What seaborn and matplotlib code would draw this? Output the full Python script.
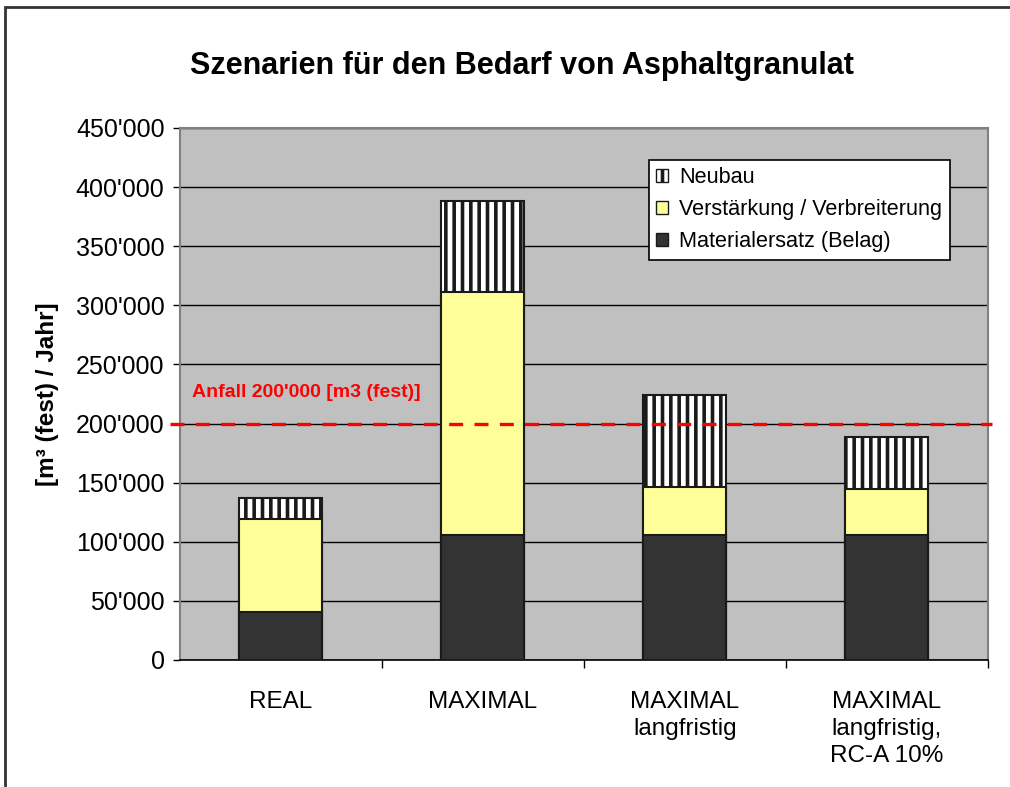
import matplotlib
matplotlib.use('Agg')
import matplotlib.pyplot as plt
import seaborn as sns
import numpy as np
import pandas as pd
from matplotlib.patches import Patch, Rectangle
from matplotlib.ticker import FuncFormatter, FixedLocator

# Data (m3 fest / Jahr)
scenarios = ['REAL', 'MAXIMAL', 'MAXIMAL\nlangfristig', 'MAXIMAL\nlangfristig,\nRC-A 10%']
materialersatz = [41000, 106000, 106000, 106000]
verstaerkung = [78000, 205000, 40000, 39000]
neubau = [18000, 77000, 78000, 44000]
anfall = 200000

sns.set_theme(style='white')
plt.rcParams['font.family'] = ['Liberation Sans', 'DejaVu Sans']
plt.rcParams['hatch.linewidth'] = 2.6
for k in ['text.color', 'axes.labelcolor', 'xtick.color', 'ytick.color']:
    plt.rcParams[k] = 'black'

df = pd.DataFrame({'Szenario': scenarios,
                   'Materialersatz': materialersatz,
                   'Verstaerkung': verstaerkung,
                   'Neubau': neubau})
df['lvl1'] = df['Materialersatz']
df['lvl2'] = df['lvl1'] + df['Verstaerkung']
df['lvl3'] = df['lvl2'] + df['Neubau']

fig = plt.figure(figsize=(10.1, 7.87), dpi=100)
ax = fig.add_axes([0.178, 0.1614, 0.8, 0.676])
ax.set_facecolor('#C0C0C0')

edge = '#1a1a1a'
bw = 0.41
# stacked: draw totals first, then lower layers on top
sns.barplot(data=df, x='Szenario', y='lvl3', ax=ax, color='white', hatch='||',
            edgecolor=edge, linewidth=1.5, width=bw, saturation=1, zorder=3)
sns.barplot(data=df, x='Szenario', y='lvl2', ax=ax, color='#FFFF99',
            edgecolor=edge, linewidth=1.5, width=bw, saturation=1, zorder=4)
sns.barplot(data=df, x='Szenario', y='lvl1', ax=ax, color='#333333',
            edgecolor=edge, linewidth=1.5, width=bw, saturation=1, zorder=5)

ax.set_ylim(0, 450000)
ax.set_xlim(-0.5, len(scenarios) - 0.5)
ax.set_yticks(np.arange(0, 450001, 50000))
ax.yaxis.set_major_formatter(FuncFormatter(lambda v, p: f"{int(v):,}".replace(',', "'")))
ax.yaxis.grid(True, color='black', linewidth=1.0)
ax.set_axisbelow(True)

# category boundary ticks
ax.xaxis.set_minor_locator(FixedLocator(np.arange(0.5, len(scenarios), 1.0)))
ax.tick_params(axis='x', which='major', length=0, pad=22, labelsize=17.5)
ax.tick_params(axis='x', which='minor', length=6, width=1, color='black', bottom=True)
ax.tick_params(axis='y', which='major', length=5, width=1, color='black', left=True,
               pad=6, labelsize=18)
for lbl in ax.get_xticklabels():
    lbl.set_linespacing(1.3)
ax.set_xlabel('')
ax.set_ylabel('[m³ (fest) / Jahr]', fontsize=17.5, fontweight='bold')
ax.yaxis.set_label_coords(-0.15, 0.5)

for s in ['top', 'right', 'left']:
    ax.spines[s].set_color('#808080')
    ax.spines[s].set_linewidth(1.5)
ax.spines['bottom'].set_color('black')
ax.spines['bottom'].set_linewidth(1.2)

# Anfall line
ax.axhline(anfall, xmin=-0.012, xmax=1.005, color='#FF0000', linewidth=2.4,
           dashes=(4.2, 3.4), clip_on=False, zorder=8)
ax.text(0.015, anfall + 26000, "Anfall 200'000 [m3 (fest)]", transform=ax.get_yaxis_transform(),
        color='#FF0000', fontsize=14, fontweight='bold', va='center', ha='left', zorder=9)

handles = [Patch(facecolor='white', edgecolor=edge, hatch='||', label='Neubau'),
           Patch(facecolor='#FFFF99', edgecolor=edge, label='Verstärkung / Verbreiterung'),
           Patch(facecolor='#333333', edgecolor=edge, label='Materialersatz (Belag)')]
leg = ax.legend(handles=handles, loc='upper right', bbox_to_anchor=(0.953, 0.94),
                fontsize=15.6, frameon=True, fancybox=False, framealpha=1,
                edgecolor='black', handlelength=0.55, handleheight=0.55,
                handletextpad=0.5, labelspacing=0.5, borderpad=0.35, borderaxespad=0)
leg.get_frame().set_linewidth(1.2)
leg.set_zorder(10)

fig.text(522 / 1010, 1 - 66 / 787, 'Szenarien für den Bedarf von Asphaltgranulat',
         ha='center', va='center', fontsize=22, fontweight='bold')

# outer chart frame
fig.patches.append(Rectangle((0.005, -0.1), 1.2, 1.091, transform=fig.transFigure,
                             fill=False, edgecolor='#333333', linewidth=2))

fig.savefig('out.png', dpi=100)
